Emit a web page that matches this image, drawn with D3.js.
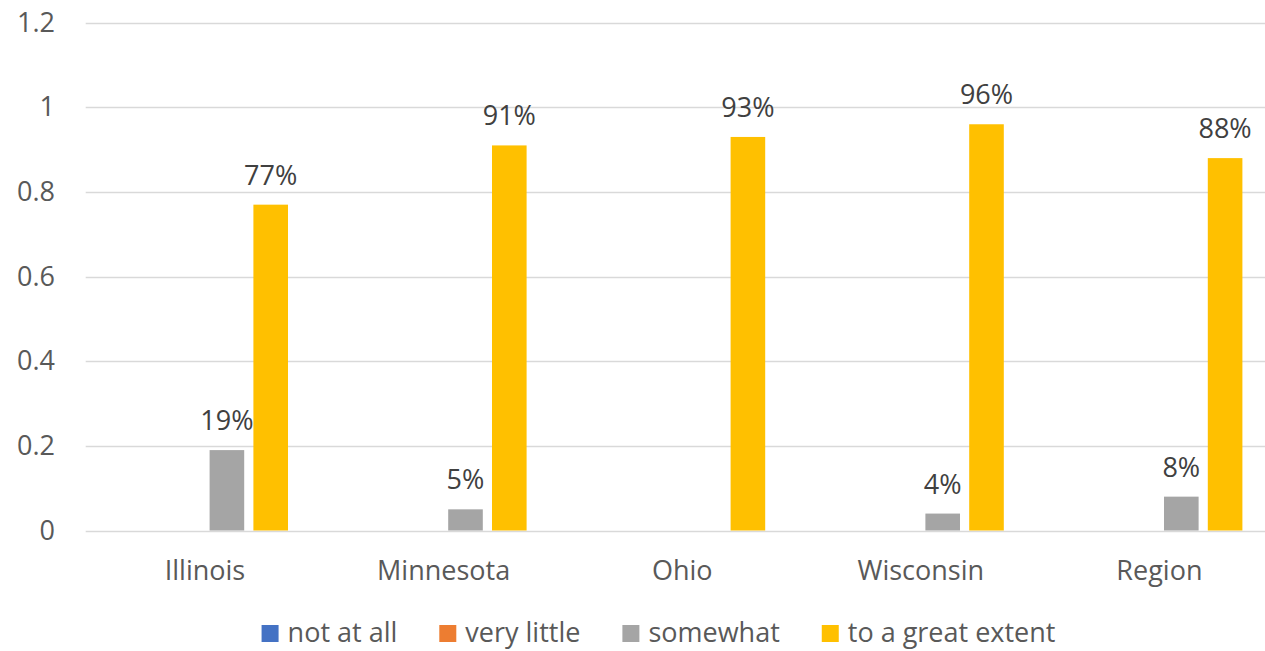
<!DOCTYPE html>
<html>
<head>
<meta charset="utf-8">
<script src="https://cdn.jsdelivr.net/npm/d3@7"></script>
<style>
  html, body { margin: 0; padding: 0; background: #fff; }
  svg { display: block; }
  text { font-family: "Open Sans", "Noto Sans", sans-serif; }
</style>
</head>
<body>
<svg id="chart" width="1265" height="651"></svg>
<script>
const categories = ["Illinois", "Minnesota", "Ohio", "Wisconsin", "Region"];
const seriesNames = ["not at all", "very little", "somewhat", "to a great extent"];
const notAtAll = [0, 0, 0, 0, 0];
const veryLittle = [0, 0, 0, 0, 0];
const somewhat = [0.19, 0.05, 0, 0.04, 0.08];
const greatExtent = [0.77, 0.91, 0.93, 0.96, 0.88];
const yTicks = [0, 0.2, 0.4, 0.6, 0.8, 1, 1.2];
const yTickLabels = ["0", "0.2", "0.4", "0.6", "0.8", "1", "1.2"];
const colors = ["#4472C4", "#ED7D31", "#A5A5A5", "#FFC000"];

const seriesValues = [notAtAll, veryLittle, somewhat, greatExtent];

const svg = d3.select("#chart");
const fontSize = 27;

const x = d3.scaleBand().domain(categories).range([85.7, 1278.7]).paddingInner(0).paddingOuter(0);
const y = d3.scaleLinear().domain([0, 1.2]).range([530.5, 22.7]);

const bw = x.bandwidth();
const x1 = d3.scaleBand().domain(seriesNames)
  .range([bw / 2 - 83, bw / 2 + 83]).paddingInner(0.21).paddingOuter(0);

// gridlines
svg.append("g").selectAll("line").data(yTicks).join("line")
  .attr("x1", 85.7).attr("x2", 1278.7)
  .attr("y1", d => Math.round(y(d)) + 0.5).attr("y2", d => Math.round(y(d)) + 0.5)
  .attr("stroke", "#D9D9D9").attr("stroke-width", 1.3);

// y labels
svg.append("g").selectAll("text").data(yTicks).join("text")
  .attr("x", 55).attr("y", d => y(d) + 9)
  .attr("text-anchor", "end")
  .attr("font-size", fontSize).attr("fill", "#595959")
  .text((d, i) => yTickLabels[i]);

// bars
const flat = [];
categories.forEach((c, ci) => {
  seriesNames.forEach((s, si) => {
    flat.push({ cat: c, series: s, si, value: seriesValues[si][ci] });
  });
});

svg.append("g").selectAll("rect").data(flat.filter(d => d.value > 0)).join("rect")
  .attr("x", d => x(d.cat) + x1(d.series))
  .attr("width", x1.bandwidth())
  .attr("y", d => y(d.value))
  .attr("height", d => y(0) - y(d.value))
  .attr("fill", d => colors[d.si]);

// data labels
svg.append("g").selectAll("text").data(flat.filter(d => d.value > 0)).join("text")
  .attr("x", d => x(d.cat) + x1(d.series) + x1.bandwidth() / 2)
  .attr("y", d => y(d.value) - 20)
  .attr("text-anchor", "middle")
  .attr("font-size", fontSize).attr("fill", "#404040")
  .text(d => d3.format(".0%")(d.value));

// x labels
svg.append("g").selectAll("text").data(categories).join("text")
  .attr("x", d => x(d) + bw / 2)
  .attr("y", 580)
  .attr("text-anchor", "middle")
  .attr("font-size", fontSize).attr("fill", "#595959")
  .text(d => d);

// legend
const legend = svg.append("g");
const items = legend.selectAll("g").data(seriesNames).join("g");
items.append("rect").attr("x", 0).attr("y", -17).attr("width", 17).attr("height", 17)
  .attr("fill", (d, i) => colors[i]);
items.append("text").attr("x", 26).attr("y", 0)
  .attr("font-size", fontSize).attr("fill", "#595959").text(d => d);
let cx = 0;
const gap = 42;
items.each(function () {
  const g = d3.select(this);
  g.attr("transform", `translate(${cx},0)`);
  const w = 26 + g.select("text").node().getComputedTextLength();
  cx += w + gap;
});
const total = cx - gap;
legend.attr("transform", `translate(${658.5 - total / 2},642)`);
</script>
</body>
</html>
